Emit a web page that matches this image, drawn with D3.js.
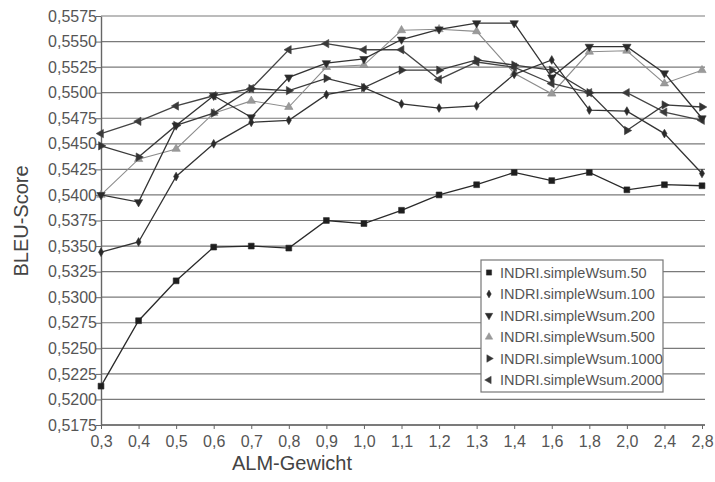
<!DOCTYPE html>
<html>
<head>
<meta charset="utf-8">
<script src="https://cdn.jsdelivr.net/npm/d3@7"></script>
<style>
  html, body { margin: 0; padding: 0; background: #fff; }
  svg { display: block; font-family: "Liberation Sans", Arial, sans-serif; }
</style>
</head>
<body>
<svg id="chart" width="715" height="482"></svg>
<script>
// ALM weights on the category axis
const weights = ["0,3","0,4","0,5","0,6","0,7","0,8","0,9","1,0","1,1","1,2","1,3","1,4","1,6","1,8","2,0","2,4","2,8"];

// BLEU scores per run
const wsum50   = [0.5213,0.5277,0.5316,0.5349,0.5350,0.5348,0.5375,0.5372,0.5385,0.5400,0.5410,0.5422,0.5414,0.5422,0.5405,0.5410,0.5409];
const wsum100  = [0.5344,0.5354,0.5418,0.5450,0.5471,0.5473,0.5498,0.5505,0.5489,0.5485,0.5487,0.5518,0.5532,0.5483,0.5482,0.5460,0.5421];
const wsum200  = [0.5400,0.5393,0.5468,0.5497,0.5476,0.5515,0.5529,0.5533,0.5552,0.5562,0.5568,0.5568,0.5515,0.5545,0.5545,0.5519,0.5475];
const wsum500  = [0.5400,0.5435,0.5445,0.5480,0.5492,0.5486,0.5525,0.5527,0.5561,0.5562,0.5560,0.5519,0.5499,0.5540,0.5541,0.5509,0.5522];
const wsum1000 = [0.5448,0.5437,0.5468,0.5480,0.5504,0.5502,0.5514,0.5505,0.5522,0.5522,0.5532,0.5527,0.5522,0.5500,0.5463,0.5488,0.5486];
const wsum2000 = [0.5460,0.5472,0.5487,0.5497,0.5504,0.5542,0.5548,0.5542,0.5542,0.5513,0.5530,0.5525,0.5509,0.5500,0.5500,0.5481,0.5473];

const seriesNames = ["INDRI.simpleWsum.50","INDRI.simpleWsum.100","INDRI.simpleWsum.200","INDRI.simpleWsum.500","INDRI.simpleWsum.1000","INDRI.simpleWsum.2000"];
const seriesValues = [wsum50, wsum100, wsum200, wsum500, wsum1000, wsum2000];

// y ticks: 0,5175 ... 0,5575 in steps of 0,0025
const yTicks = d3.range(0, 17).map(i => +(0.5175 + i * 0.0025).toFixed(4));

const svg = d3.select("#chart");
const x = d3.scalePoint().domain(weights).range([101, 702]);
const y = d3.scaleLinear().domain([0.5175, 0.5575]).range([425, 16]);

const fmt = v => v.toFixed(4).replace(".", ",");

// gridlines
svg.append("g").selectAll("line").data(yTicks).join("line")
  .attr("x1", 101).attr("x2", 705)
  .attr("y1", d => y(d)).attr("y2", d => y(d))
  .attr("stroke", "#7a7a7a").attr("stroke-width", 1.2);

// y axis
const yAxis = d3.axisLeft(y).tickValues(yTicks).tickFormat(fmt).tickSize(5).tickSizeOuter(0);
const gy = svg.append("g").attr("transform", "translate(101,0)").call(yAxis);
gy.select(".domain").attr("stroke", "#666").attr("stroke-width", 1.4);
gy.selectAll(".tick line").attr("stroke", "#666");
gy.selectAll(".tick text").attr("fill", "#555").style("font-size", "16px")
  .style("font-family", "Liberation Sans, Arial, sans-serif").attr("x", -4);

// x axis
const xAxis = d3.axisBottom(x).tickSize(4).tickSizeOuter(0);
const gx = svg.append("g").attr("transform", "translate(0,425)").call(xAxis);
gx.select(".domain").attr("stroke", "#666").attr("stroke-width", 1.4).attr("d", "M101,0H705");
gx.selectAll(".tick line").attr("stroke", "#666");
gx.selectAll(".tick text").attr("fill", "#555").style("font-size", "16px")
  .style("font-family", "Liberation Sans, Arial, sans-serif").attr("dy", "0.95em");

// axis titles
svg.append("text").attr("x", 292).attr("y", 470).attr("text-anchor", "middle")
  .attr("fill", "#444").style("font-size", "20px").text("ALM-Gewicht");
svg.append("text").attr("transform", "translate(28,221) rotate(-90)").attr("text-anchor", "middle")
  .attr("fill", "#444").style("font-size", "20px").text("BLEU-Score");

// marker shapes per series
const markers = [
  { type: d3.symbolSquare,   rot: 0,   size: 34 },
  { type: d3.symbolDiamond,  rot: 0,   size: 22 },
  { type: d3.symbolTriangle, rot: 180, size: 30 },
  { type: d3.symbolTriangle, rot: 0,   size: 30 },
  { type: d3.symbolTriangle, rot: 90,  size: 30 },
  { type: d3.symbolTriangle, rot: -90, size: 30 }
];
const strokes = ["#2a2a2a", "#333", "#333", "#8c8c8c", "#3a3a3a", "#444"];
const fills   = ["#1e1e1e", "#2a2a2a", "#2a2a2a", "#9a9a9a", "#333", "#3a3a3a"];

const line = d3.line().x((d, i) => x(weights[i])).y(d => y(d));

// draw lighter series first so dark lines sit on top
const order = [3, 5, 4, 1, 2, 0];
order.forEach(s => {
  const g = svg.append("g");
  g.append("path").datum(seriesValues[s]).attr("d", line)
    .attr("fill", "none").attr("stroke", strokes[s]).attr("stroke-width", s === 3 ? 1.1 : 1.3);
  const m = markers[s];
  g.selectAll("path.mk").data(seriesValues[s]).join("path").attr("class", "mk")
    .attr("d", d3.symbol().type(m.type).size(m.size))
    .attr("transform", (d, i) => `translate(${x(weights[i])},${y(d)}) rotate(${m.rot})`)
    .attr("fill", fills[s]).attr("stroke", strokes[s]).attr("stroke-width", 0.6);
});

// legend
const lg = svg.append("g").attr("transform", "translate(481,260)");
lg.append("rect").attr("width", 182).attr("height", 132)
  .attr("fill", "#fff").attr("stroke", "#777").attr("stroke-width", 1.2);
seriesNames.forEach((name, i) => {
  const yy = 12.5 + i * 21.5;
  const m = markers[i];
  lg.append("path").attr("d", d3.symbol().type(m.type).size(m.size * 0.8))
    .attr("transform", `translate(8,${yy}) rotate(${m.rot})`)
    .attr("fill", fills[i]).attr("stroke", strokes[i]).attr("stroke-width", 0.5);
  lg.append("text").attr("x", 19).attr("y", yy).attr("dy", "0.36em")
    .attr("fill", "#555").style("font-size", "14.5px").text(name);
});
</script>
</body>
</html>
